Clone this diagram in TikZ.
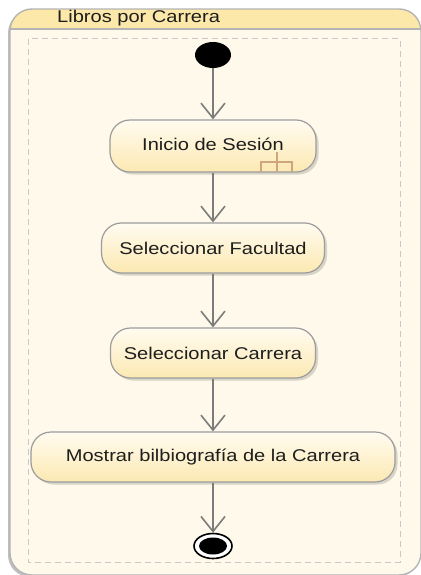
\documentclass[tikz,border=0pt]{standalone}
\usepackage{fontspec}
\setmainfont{Liberation Sans}[FakeStretch=1.18]
\usetikzlibrary{arrows.meta,shadows,shapes.geometric}
\definecolor{bodyfill}{HTML}{FEF9EA}
\definecolor{headfill}{HTML}{FCE8A8}
\definecolor{frameline}{HTML}{B4B4B4}
\definecolor{dashline}{HTML}{C8C8C8}
\definecolor{nodetop}{HTML}{FFFBF0}
\definecolor{nodebot}{HTML}{FCE9B2}
\definecolor{nodeline}{HTML}{9C9C9C}
\definecolor{flowline}{HTML}{7C7C7C}
\definecolor{rake}{HTML}{CFA67C}
\definecolor{txt}{HTML}{1E1E1E}
\tikzset{
  activity/.style={draw=nodeline, line width=1.2pt, rounded corners=20pt,
    top color=nodetop, bottom color=nodebot, text=txt,
    font=\fontsize{17}{19}\selectfont, inner sep=0pt,
    drop shadow={shadow xshift=2.5pt, shadow yshift=-2.5pt, opacity=0.25, fill=black!60}},
  flow/.style={draw=flowline, line width=1.6pt,
    -{Straight Barb[length=15pt,width=24pt,line width=1.6pt]}},
}
\begin{document}
\begin{tikzpicture}[x=1pt,y=-1pt]
\useasboundingbox (0,0) rectangle (420,575);
% outer frame with shadow
\fill[black!25, rounded corners=22pt] (8,11) rectangle (419,577);
\fill[bodyfill, rounded corners=22pt] (10,9) rectangle (421,575);
\begin{scope}
  \clip[rounded corners=22pt] (10,9) rectangle (421,575);
  \fill[headfill] (10,9) rectangle (421,29);
\end{scope}
\draw[frameline, line width=1.4pt, rounded corners=22pt] (10,9) rectangle (421,575);
\draw[frameline, line width=1.2pt] (10,29) -- (421,29);
\node[anchor=west, text=txt, font=\fontsize{17}{19}\selectfont, inner sep=0pt] (title) at (57,18.5) {Libros por Carrera};
% dashed partition
\draw[dashline, line width=1pt, dash pattern=on 6pt off 4pt] (28,39) rectangle (400,562);
% initial node
\node[ellipse, fill=black, minimum width=36pt, minimum height=26pt, inner sep=0pt] (start) at (213,55) {};
% activities
\node[activity, minimum width=206pt, minimum height=52pt] (n1) at (213,146) {\raisebox{4pt}{Inicio de Sesión}};
\node[activity, minimum width=223pt, minimum height=50pt] (n2) at (213,248) {\raisebox{-2pt}{Seleccionar Facultad}};
\node[activity, minimum width=205pt, minimum height=50pt] (n3) at (213,353) {Seleccionar Carrera};
\node[activity, minimum width=364pt, minimum height=50pt] (n4) at (213,457) {Mostrar bilbiografía de la Carrera};
% rake icon
\coordinate (rk) at (277,152);
\draw[rake, line width=1.2pt] (rk) -- ++(0,20);
\draw[rake, line width=1.2pt] (261,172) -- (261,162) -- (292,162) -- (292,172);
% final node
\node[ellipse, draw=black, fill=white, line width=1.6pt, minimum width=38pt, minimum height=25pt, inner sep=0pt] (end) at (213,546) {};
\node[ellipse, fill=black, minimum width=28pt, minimum height=17pt, inner sep=0pt] (endin) at (213,546) {};
% flows
\draw[flow] (start.south) -- (n1.north);
\draw[flow] (n1.south) -- (n2.north);
\draw[flow] (n2.south) -- (n3.north);
\draw[flow] (n3.south) -- (n4.north);
\draw[flow] (n4.south) -- (end.north);
\end{tikzpicture}
\end{document}
